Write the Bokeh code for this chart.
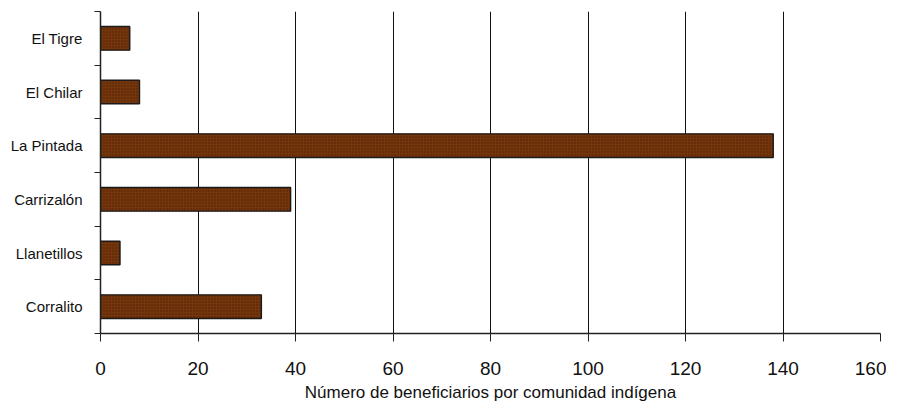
from bokeh.plotting import figure
from bokeh.models import FixedTicker, ColumnDataSource
from bokeh.embed import file_html
from bokeh.resources import INLINE

communities = ["El Tigre", "El Chilar", "La Pintada", "Carrizalón", "Llanetillos", "Corralito"]
beneficiaries = [6, 8, 138, 39, 4, 33]
x_ticks = [0, 20, 40, 60, 80, 100, 120, 140, 160]
x_label = "Número de beneficiarios por comunidad indígena"

n = len(communities)
ypos = [n - 0.5 - i for i in range(n)]
src = ColumnDataSource(dict(y=ypos, v=beneficiaries, name=communities))

FONT = "Liberation Sans Narrow, Liberation Sans, Arial, sans-serif"

p = figure(width=886, height=404, output_backend="svg", toolbar_location=None,
           x_range=(0, 160), y_range=(0, n),
           min_border_left=100, min_border_right=6, min_border_top=11, min_border_bottom=70)
p.outline_line_color = None
p.background_fill_color = "white"

p.hbar(y="y", left=0, right="v", height=0.44, source=src,
       fill_color="#76360c", line_color="#1a1a1a", line_width=1.4,
       hatch_pattern="dot", hatch_color="#4a1f05", hatch_scale=3, hatch_weight=1)

p.xaxis.ticker = FixedTicker(ticks=x_ticks)
p.xaxis.axis_label = x_label
p.xaxis.axis_label_text_font = FONT
p.xaxis.axis_label_text_font_style = "normal"
p.xaxis.axis_label_text_font_size = "17px"
p.xaxis.axis_label_text_color = "#111111"
p.xaxis.axis_label_standoff = 5
p.xaxis.major_label_text_font = FONT
p.xaxis.major_label_text_font_size = "19px"
p.xaxis.major_label_text_color = "#111111"
p.xaxis.major_label_standoff = 20
p.xaxis.major_tick_in = 0
p.xaxis.major_tick_out = 8
p.xaxis.minor_tick_line_color = None
p.xaxis.axis_line_width = 1.5
p.xaxis.axis_line_color = "#222222"
p.xaxis.major_tick_line_color = "#222222"

p.yaxis.ticker = FixedTicker(ticks=ypos, minor_ticks=list(range(n + 1)))
p.yaxis.major_label_overrides = {y: c for y, c in zip(ypos, communities)}
p.yaxis.major_label_text_font = FONT
p.yaxis.major_label_text_font_size = "15px"
p.yaxis.major_label_text_color = "#111111"
p.yaxis.major_label_standoff = 12
p.yaxis.major_tick_in = 0
p.yaxis.major_tick_out = 0
p.yaxis.minor_tick_in = 0
p.yaxis.minor_tick_out = 6
p.yaxis.minor_tick_line_color = "#222222"
p.yaxis.axis_line_width = 1.5
p.yaxis.axis_line_color = "#222222"

p.xgrid.ticker = FixedTicker(ticks=x_ticks)
p.xgrid.grid_line_color = "#111111"
p.xgrid.grid_line_width = 1
p.ygrid.grid_line_color = None

open("out.html", "w").write(file_html(p, INLINE))
